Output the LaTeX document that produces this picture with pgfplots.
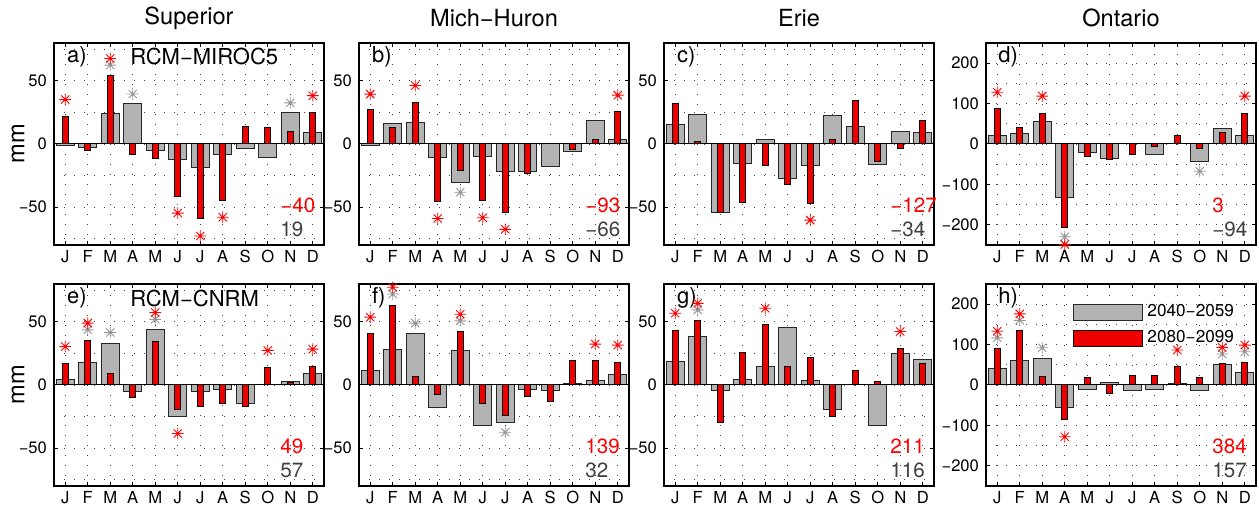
\documentclass[border=0pt]{standalone}
\usepackage{fontspec}
\setmainfont{TeX Gyre Heros}
\usepackage{pgfplots}
\usepackage{pgfplotstable}
\pgfplotsset{compat=1.18}

\definecolor{barGray}{RGB}{179,179,179}
\definecolor{barRed}{RGB}{236,0,0}
\definecolor{starGray}{RGB}{150,150,150}
\definecolor{txtGray}{RGB}{64,64,64}

\pgfdeclareplotmark{ast8}{%
  \pgfpathmoveto{\pgfqpoint{-\pgfplotmarksize}{0pt}}\pgfpathlineto{\pgfqpoint{\pgfplotmarksize}{0pt}}%
  \pgfpathmoveto{\pgfqpoint{0pt}{-\pgfplotmarksize}}\pgfpathlineto{\pgfqpoint{0pt}{\pgfplotmarksize}}%
  \pgfpathmoveto{\pgfqpoint{-0.707\pgfplotmarksize}{-0.707\pgfplotmarksize}}\pgfpathlineto{\pgfqpoint{0.707\pgfplotmarksize}{0.707\pgfplotmarksize}}%
  \pgfpathmoveto{\pgfqpoint{-0.707\pgfplotmarksize}{0.707\pgfplotmarksize}}\pgfpathlineto{\pgfqpoint{0.707\pgfplotmarksize}{-0.707\pgfplotmarksize}}%
  \pgfusepathqstroke}

\newcommand{\tickfont}{\fontsize{8.3}{9}\selectfont}
\newcommand{\numfont}{\fontsize{10.3}{12}\selectfont}
\newcommand{\titlefont}{\fontsize{11.8}{14}\selectfont}
\newcommand{\labfont}{\fontsize{11}{13}\selectfont}
\newcommand{\legfont}{\fontsize{8.6}{10}\selectfont}

% ---- data: m = month, g = 2040-2059, r = 2080-2099 ----
\pgfplotstableread{
m g r
1 -1 21.6
2 -3 -5
3 24 54.4
4 32 -8
5 -5.5 -11.5
6 -12 -41.7
7 -19 -59.4
8 -8 -44.8
9 -3.4 13.5
10 -11 13.3
11 24.7 10
12 9.4 25
}\tA
\pgfplotstableread{
m g r
1 -1 27
2 16.6 12.9
3 16.8 33.2
4 -11 -45.5
5 -30.5 -21.3
6 -10 -45
7 -21.6 -54.5
8 -21.6 -23
9 -17.9 0
10 -6.3 -4
11 18.4 3.2
12 3.7 25.5
}\tB
\pgfplotstableread{
m g r
1 15.8 31.8
2 23.2 1.6
3 -54.5 -54.5
4 -15.5 -46
5 3.9 -17.1
6 -27.6 -32.4
7 -17.1 -47.4
8 22.6 3.7
9 13.7 34.2
10 -16.6 -13.7
11 10 -3.7
12 9.5 18.4
}\tC
\pgfplotstableread{
m g r
1 22 87
2 27 40
3 55 76.5
4 -133 -207
5 -20.6 -31
6 -37 -38
7 1 -27
8 -26 -6.6
9 2 20.6
10 -43 -11.5
11 39.5 29.6
12 22 76.5
}\tD
\pgfplotstableread{
m g r
1 4 17.1
2 17.9 35.5
3 33.2 9.2
4 -5 -9.7
5 44 34.5
6 -25 -19.7
7 -5.5 -17.1
8 -3.7 -14.7
9 -15 -17.1
10 0.3 14.2
11 2.9 2.1
12 9.2 15
}\tE
\pgfplotstableread{
m g r
1 11.8 40.8
2 28.4 63.2
3 41 6.8
4 -18.2 -7.9
5 27.6 42.4
6 -32.1 -14.7
7 -29.7 -24.5
8 -3.7 -9.2
9 -4.2 -13.4
10 0.8 19.2
11 3.7 19.5
12 8.7 18.2
}\tF
\pgfplotstableread{
m g r
1 19 43.2
2 38.7 51.3
3 -4.2 -29.7
4 4.7 25.5
5 14.7 47.6
6 45.5 14.7
7 3.7 22.1
8 -19.5 -25
9 0.5 11.3
10 -32.1 2.6
11 25 29.2
12 20.3 17.4
}\tG
\pgfplotstableread{
m g r
1 40 90.6
2 59.6 134.7
3 66 21.2
4 -55.5 -85.7
5 -10.6 18
6 7.3 -20.4
7 -13.9 24.5
8 -12.2 24.5
9 4.9 45
10 -13.9 18.8
11 50.6 53
12 31.8 56.3
}\tH

\pgfplotsset{
  gridsty/.style={black!75, line width=0.6pt, dash pattern=on 0.6pt off 4.4pt},
  panel/.style={
    width=135pt, height=101pt, scale only axis,
    xmin=0.5, xmax=12.5, ymin=-80, ymax=80,
    xtick={1,...,12}, xticklabels={J,F,M,A,M,J,J,A,S,O,N,D},
    ytick={-50,0,50}, yticklabels={−50,0,50},
    minor ytick={-75,-25,25,75},
    grid=both, major grid style={gridsty}, minor grid style={gridsty},
    tick align=inside, major tick length=2pt, minor tick length=0pt,
    tick style={black, line width=0.5pt},
    ticklabel style={font=\tickfont},
    xticklabel style={yshift=1pt},
    axis line style={line width=0.6pt},
    clip=false,
    every axis title shift=0pt,
    title style={font=\titlefont, at={(0.5,1)}, anchor=center, yshift=12.5pt},
    ylabel style={font=\titlefont, at={(axis description cs:-0.133,0.5)}, anchor=center},
  },
  big/.style={ymin=-250, ymax=250, ytick={-200,-100,0,100,200},
    yticklabels={−200,−100,0,100,200}, minor ytick={-150,-50,50,150}},
  gbar/.style={ybar, bar width=0.8, bar shift=0pt, fill=barGray, draw=black!85, line width=0.5pt},
  rbar/.style={ybar, bar width=0.25, bar shift=0pt, fill=barRed, draw=black, line width=0.5pt},
  gstar/.style={only marks, mark=ast8, mark size=2.9pt, starGray, line width=0.45pt, forget plot},
  rstar/.style={only marks, mark=ast8, mark size=2.9pt, red, line width=0.45pt, forget plot},
}

% #1 position, #2 options, #3 table, #4 gray stars, #5 red stars, #6 red total, #7 gray total, #8 extra
\newcommand{\panel}[8]{%
\begin{axis}[panel, at={#1}, anchor=north west, #2]
\addplot[gbar] table[x=m,y=g] {#3};
\addplot[rbar] table[x=m,y=r] {#3};
\addplot[black, line width=0.5pt, forget plot] coordinates {(0.5,0) (12.5,0)};
\addplot[gstar] coordinates {#4};
\addplot[rstar] coordinates {#5};
\node[anchor=west, inner sep=0pt, text=red, font=\numfont] at (rel axis cs:0.837,0.195) {#6};
\node[anchor=west, inner sep=0pt, text=txtGray, font=\numfont] at (rel axis cs:0.837,0.077) {#7};
#8
\end{axis}}

\begin{document}
\begin{tikzpicture}
\panel{(27pt,-21.5pt)}{title={Superior}, ylabel={mm}}{\tA}
  {(3,62.5) (4,39.6) (11,32.6)}
  {(1,35.2) (3,67.7) (6,-54.7) (7,-72.9) (8,-58) (12,38.3)}
  {−40}{19}
  {\node[anchor=west, inner sep=0pt, font=\labfont] at (rel axis cs:0.047,0.932) {a)};
   \node[anchor=west, inner sep=0pt, font=\labfont] at (rel axis cs:0.281,0.932) {RCM−MIROC5};}
\panel{(179.5pt,-21.5pt)}{title={Mich−Huron}}{\tB}
  {(5,-38.2)}
  {(1,39.5) (3,46.3) (4,-59) (6,-58.4) (7,-67.6) (12,38.7)}
  {−93}{−66}
  {\node[anchor=west, inner sep=0pt, font=\labfont] at (rel axis cs:0.047,0.932) {b)};}
\panel{(332pt,-21.5pt)}{title={Erie}}{\tC}
  {}
  {(7,-60.3)}
  {−127}{−34}
  {\node[anchor=west, inner sep=0pt, font=\labfont] at (rel axis cs:0.047,0.932) {c)};}
\panel{(493pt,-21.5pt)}{title={Ontario}, big}{\tD}
  {(4,-229.6) (10,-67.5)}
  {(1,128) (3,118.5) (4,-248.5) (12,118.5)}
  {3}{−94}
  {\node[anchor=west, inner sep=0pt, font=\labfont] at (rel axis cs:0.044,0.932) {d)};}
\panel{(27pt,-142pt)}{ylabel={mm}}{\tE}
  {(2,43.7) (3,41.6) (5,52)}
  {(1,30.5) (2,49) (5,57.4) (6,-38.4) (10,27.4) (12,28.4)}
  {49}{57}
  {\node[anchor=west, inner sep=0pt, font=\labfont] at (rel axis cs:0.047,0.93) {e)};
   \node[anchor=west, inner sep=0pt, font=\labfont] at (rel axis cs:0.281,0.93) {RCM−CNRM};}
\panel{(179.5pt,-142pt)}{}{\tF}
  {(2,72.1) (3,49) (5,50.8) (7,-37.4)}
  {(1,53.7) (2,77.4) (5,56) (11,32.4) (12,31.6)}
  {139}{32}
  {\node[anchor=west, inner sep=0pt, font=\labfont] at (rel axis cs:0.047,0.93) {f)};}
\panel{(332pt,-142pt)}{}{\tG}
  {(2,59.5)}
  {(1,56.8) (2,64.7) (5,60.8) (11,42.4)}
  {211}{116}
  {\node[anchor=west, inner sep=0pt, font=\labfont] at (rel axis cs:0.047,0.93) {g)};}
\panel{(493pt,-142pt)}{big,
    legend style={at={(rel axis cs:0.315,0.93)}, anchor=north west, draw=none, fill=none,
      font=\legfont, row sep=1.5pt, inner sep=1pt},
    legend image code/.code={\draw[#1] (0pt,-4pt) rectangle (34.5pt,4pt);}}{\tH}
  {(1,116.7) (2,160) (3,92.2) (11,76.7) (12,82.4)}
  {(1,133) (2,176) (4,-128) (9,86.5) (11,93) (12,98.8)}
  {384}{157}
  {\node[anchor=west, inner sep=0pt, font=\labfont] at (rel axis cs:0.044,0.93) {h)};
   \legend{2040−2059,2080−2099}}
\pgfresetboundingbox
\useasboundingbox (0,0) rectangle (629.5pt,-256pt);
\end{tikzpicture}
\end{document}
